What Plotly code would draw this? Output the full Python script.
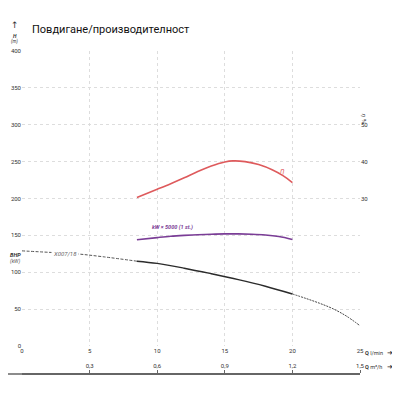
import plotly.graph_objects as go

# %% data
q_ticks = [0, 5, 10, 15, 20, 25]
h_ticks = [0, 50, 100, 150, 200, 250, 300, 350, 400]
eta_ticks = [30, 40, 50]
m3h_ticks = [0.3, 0.6, 0.9, 1.2, 1.5]
m3h_text = ["0,3", "0,6", "0,9", "1,2", "1,5"]

# efficiency curve (right axis, %)
eta_q = [8.5, 10, 11, 12, 13, 14, 15, 15.6, 16.5, 17.5, 18.5, 19.3, 20]
eta_val = [30.3, 32.5, 34.0, 35.6, 37.3, 38.8, 39.9, 40.2, 40.0, 39.2, 37.8, 36.2, 34.3]

# kW x 5000 curve (left axis scale)
kw_q = [8.5, 10, 11, 12, 13, 14, 15, 16, 17, 18, 19, 20]
kw_val = [144, 147, 148.8, 150, 150.9, 151.5, 152, 152, 151.6, 150.6, 148.4, 144.5]

# BHP curve X007/18 : dashed / solid / dashed
bhp_q_low = [0, 2, 4, 6, 8.5]
bhp_low = [129, 127, 125, 121, 115]
bhp_q_mid = [8.5, 10, 12, 14, 16, 18, 20]
bhp_mid = [115, 112, 105.5, 98, 90, 81, 70.5]
bhp_q_high = [20, 21, 22, 23, 24, 25]
bhp_high = [70.5, 64.5, 58, 50.5, 40.5, 27.5]

# %%
fig = go.Figure()
fig.add_trace(go.Scatter(x=bhp_q_low, y=bhp_low, mode="lines", line_shape="spline",
                         line=dict(color="#555555", width=1.0, dash="3px,1.5px")))
fig.add_trace(go.Scatter(x=bhp_q_mid, y=bhp_mid, mode="lines", line_shape="spline",
                         line=dict(color="#2b2b2b", width=1.4)))
fig.add_trace(go.Scatter(x=bhp_q_high, y=bhp_high, mode="lines", line_shape="spline",
                         line=dict(color="#444444", width=1.0, dash="2px,1px")))
fig.add_trace(go.Scatter(x=kw_q, y=kw_val, mode="lines", line_shape="spline",
                         line=dict(color="#7a3d96", width=1.6)))
fig.add_trace(go.Scatter(x=eta_q, y=eta_val, mode="lines", line_shape="spline",
                         yaxis="y2", line=dict(color="#de5a5c", width=1.6)))
# keeps the m3/h axis alive
fig.add_trace(go.Scatter(x=[0, 1.5], y=[None, None], xaxis="x2", mode="lines",
                         hoverinfo="skip"))

grid = dict(showgrid=True, gridcolor="#dddddd", griddash="dot", gridwidth=1,
            zeroline=False, showline=False, automargin=False)
tf = dict(family="Roboto", size=6, color="#333333")

# page has an 8px body margin, so the figure is 392 and sits at (8, 8)
fig.update_layout(
    width=392, height=392,
    margin=dict(l=14, r=40, t=43, b=26, autoexpand=False),
    plot_bgcolor="white", paper_bgcolor="white",
    showlegend=False,
    font=dict(family="Roboto"),
    xaxis=dict(range=[0, 25], tickvals=q_ticks, tickfont=tf, anchor="y", **grid),
    yaxis=dict(range=[0, 400], tickvals=h_ticks, tickfont=tf, domain=[0.0867, 1], **grid),
    yaxis2=dict(range=[-10, 70], tickvals=eta_ticks, tickfont=tf, overlaying="y",
                side="right", showgrid=False, zeroline=False, anchor="x", automargin=False),
    xaxis2=dict(range=[0, 1.5], tickvals=m3h_ticks, ticktext=m3h_text, tickfont=tf,
                overlaying="x", anchor="free", position=0, side="top",
                ticks="outside", ticklen=3, tickcolor="#666666",
                showline=True, linecolor="#666666", linewidth=1.5,
                showgrid=False, zeroline=False, automargin=False),
)

# extend the bottom line to the left edge
fig.add_shape(type="line", xref="paper", yref="paper", x0=-14 / 338, x1=0, y0=0, y1=0,
              line=dict(color="#666666", width=1.5))

ann = [
    dict(text="Повдигане/производителност", x=30, y=30, size=11, color="#111111", xa="left"),
    dict(text="↑", x=15, y=25, size=9, color="#333333"),
    dict(text="<b><i>H</i></b>", x=15, y=36, size=5, color="#333333"),
    dict(text="<i>(m)</i>", x=15, y=42, size=4.5, color="#333333"),
    dict(text="<b><i>BHP</i></b>", x=8.5, y=255, size=5.5, color="#333333", xa="left"),
    dict(text="<i>(kW)</i>", x=8.5, y=261, size=5, color="#555555", xa="left"),
    dict(text="<b>Q</b> l/min", x=363, y=353, size=5.5, color="#333333", xa="left"),
    dict(text="<b>Q</b> m³/h", x=363, y=367, size=5.5, color="#333333", xa="left"),
    dict(text="➜", x=390, y=353, size=7, color="#333333"),
    dict(text="➜", x=390, y=367, size=7, color="#333333"),
]
for a in ann:
    fig.add_annotation(text=a["text"], xref="paper", yref="paper",
                       x=(a["x"] - 22) / 338, y=(374 - a["y"]) / 323,
                       xanchor=a.get("xa", "center"), yanchor="middle", showarrow=False,
                       font=dict(size=a["size"], color=a["color"], family="Roboto, DejaVu Sans"))

fig.add_annotation(text="<i>η</i> %", xref="paper", yref="paper", x=(368 - 22) / 338,
                   y=(374 - 112) / 323, textangle=90, showarrow=False,
                   font=dict(size=5.5, color="#333333", family="DejaVu Sans"))
fig.add_annotation(text="<i>X007/18</i>", x=3.2, y=126, showarrow=False, bgcolor="white",
                   font=dict(size=6, color="#666666"))
fig.add_annotation(text="<i>η</i>", x=19.3, y=37.5, yref="y2", showarrow=False,
                   font=dict(size=7, color="#de5a5c", family="DejaVu Sans"))
fig.add_annotation(text="<b><i>kW × 5000 (1 st.)</i></b>", x=11.1, y=161, showarrow=False,
                   font=dict(size=5.5, color="#7a3d96"))

fig.write_html("out.html")
